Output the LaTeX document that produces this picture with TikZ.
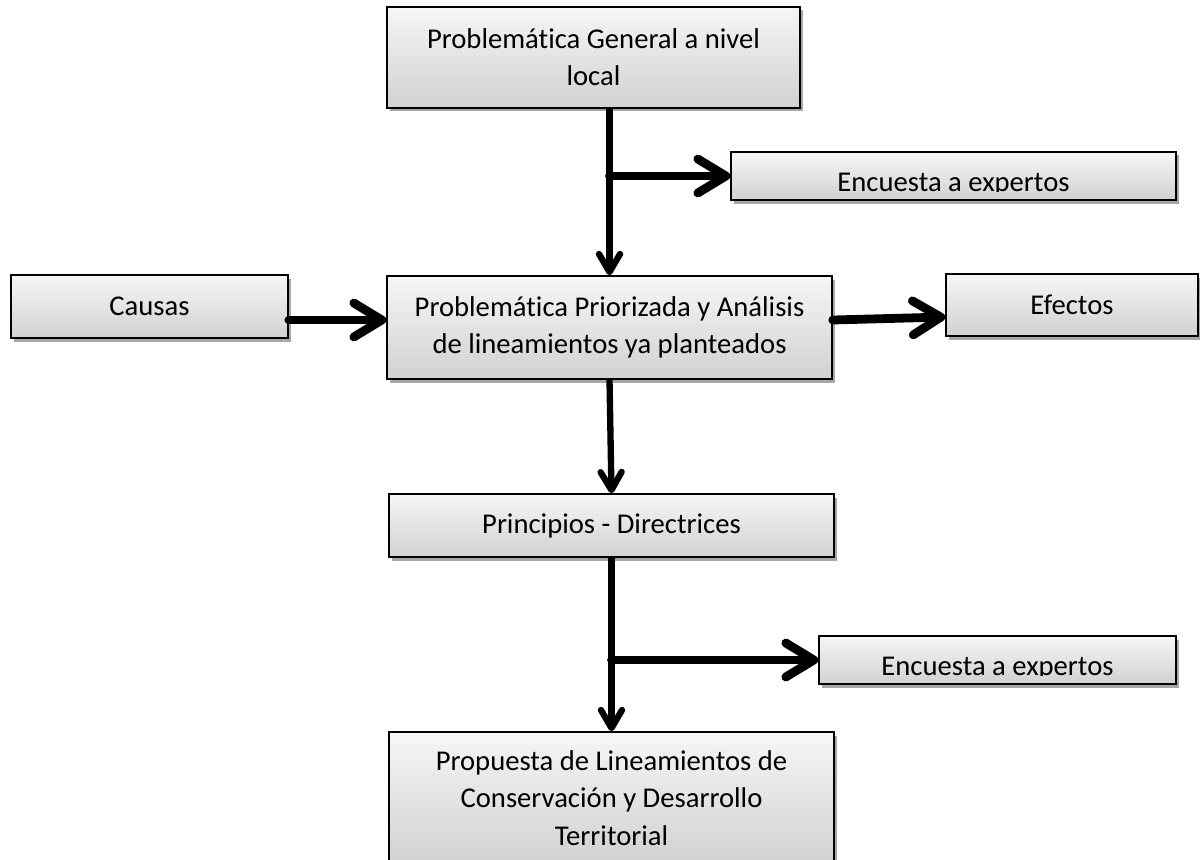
\documentclass[tikz,border=0pt]{standalone}
\usepackage{fontspec}
\setmainfont{Carlito}[Ligatures=NoCommon]
\usetikzlibrary{arrows.meta,shadows}

\tikzset{
    texto/.style={font=\fontsize{16.3}{21.2}\selectfont},
    caja/.style={draw, line width=0.9pt, top color=gray!7, bottom color=gray!36, align=center, inner sep=0pt, texto,
        drop shadow={shadow xshift=0.06cm, shadow yshift=-0.07cm, opacity=0.35, fill=black}},
    recorte/.style={path picture={
        \clip ([yshift=0.17cm]path picture bounding box.south west) rectangle (path picture bounding box.north east);
        \node[texto, anchor=base, inner sep=0pt] at ([yshift=0.18cm]path picture bounding box.south) {#1};}},
    flechah/.style={line width=5pt, line cap=round, -{Straight Barb[length=0.56cm, width=0.68cm, line cap=round, line join=round]}},
    flechav/.style={line width=3.6pt, -{Straight Barb[length=0.36cm, width=0.42cm, line cap=round, line join=round]}}
}

\begin{document}
\begin{tikzpicture}

    \useasboundingbox (0,0) rectangle (24,-17.18);

    % Boxes of the main column
    \node[caja, minimum width=8.26cm, minimum height=2.02cm] (general) at (11.87,-1.15) {Problemática General a nivel\\local};
    \node[caja, minimum width=8.9cm, minimum height=2.06cm] (priorizada) at (12.19,-6.55) {Problemática Priorizada y Análisis\\de lineamientos ya planteados};
    \node[caja, minimum width=8.9cm, minimum height=1.26cm] (principios) at (12.23,-10.51) {Principios - Directrices};
    \node[caja, minimum width=8.9cm, minimum height=2.64cm] (propuesta) at (12.23,-15.96) {Propuesta de Lineamientos de\\Conservación y Desarrollo\\Territorial};

    % Boxes at the sides
    \node[caja, minimum width=5.54cm, minimum height=1.26cm] (causas) at (2.99,-6.13) {Causas};
    \node[caja, minimum width=5.04cm, minimum height=1.24cm] (efectos) at (21.44,-6.10) {Efectos};
    \node[caja, minimum width=8.9cm, minimum height=0.96cm, recorte={Encuesta a expertos}] (encuesta1) at (19.07,-3.52) {};
    \node[caja, minimum width=7.14cm, minimum height=0.96cm, recorte={Encuesta a expertos}] (encuesta2) at (19.95,-13.2) {};

    % Arrows down the column
    \draw[flechav] (general.south -| priorizada.north) -- (priorizada.north);
    \draw[flechav] (priorizada.south) -- (principios.north);
    \draw[flechav] (principios.south) -- (propuesta.north);

    % Arrows to the sides
    \draw[flechah] (priorizada.north |- encuesta1.west) -- (encuesta1.west);
    \draw[flechah] (principios.south |- encuesta2.west) -- (encuesta2.west);
    \draw[flechah] ([yshift=-0.27cm]causas.east) -- ([yshift=-0.27cm]causas.east -| priorizada.west);
    \draw[flechah] ([yshift=0.15cm]priorizada.east) -- ([yshift=-0.24cm]efectos.west);

\end{tikzpicture}
\end{document}
